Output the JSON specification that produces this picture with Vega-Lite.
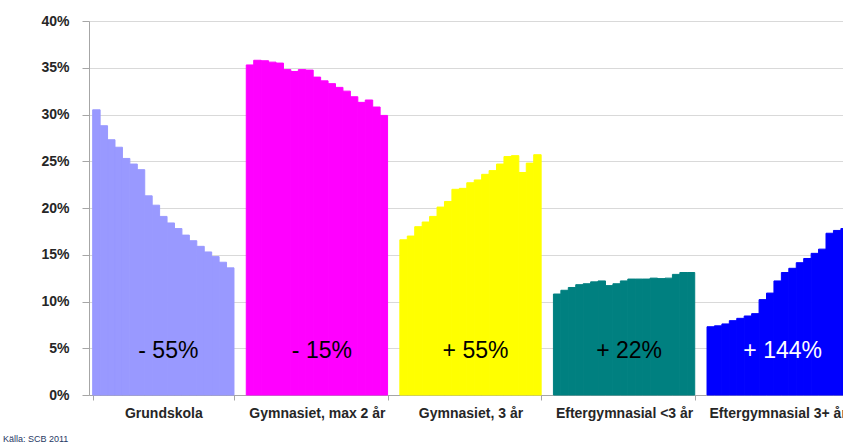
{
  "$schema": "https://vega.github.io/schema/vega-lite/v6.json",
  "autosize": {"type": "none"},
  "padding": {"left": 89, "top": 21, "right": 0, "bottom": 53},
  "width": 763,
  "height": 374,
  "background": "white",
  "title": {"text": "Källa: SCB 2011", "orient": "bottom", "anchor": "start", "frame": "group", "dx": -86, "offset": 15, "fontSize": 9, "fontWeight": "normal", "font": "Liberation Sans", "color": "#1F3864"},
  "datasets": {
    "shares": [
      {"cat": "Grundskola", "year": 1990, "value": 30.5},
      {"cat": "Grundskola", "year": 1991, "value": 28.8},
      {"cat": "Grundskola", "year": 1992, "value": 27.3},
      {"cat": "Grundskola", "year": 1993, "value": 26.5},
      {"cat": "Grundskola", "year": 1994, "value": 25.3},
      {"cat": "Grundskola", "year": 1995, "value": 24.7},
      {"cat": "Grundskola", "year": 1996, "value": 24.1},
      {"cat": "Grundskola", "year": 1997, "value": 21.3},
      {"cat": "Grundskola", "year": 1998, "value": 20.3},
      {"cat": "Grundskola", "year": 1999, "value": 19.1},
      {"cat": "Grundskola", "year": 2000, "value": 18.4},
      {"cat": "Grundskola", "year": 2001, "value": 17.8},
      {"cat": "Grundskola", "year": 2002, "value": 17.1},
      {"cat": "Grundskola", "year": 2003, "value": 16.5},
      {"cat": "Grundskola", "year": 2004, "value": 15.9},
      {"cat": "Grundskola", "year": 2005, "value": 15.3},
      {"cat": "Grundskola", "year": 2006, "value": 14.8},
      {"cat": "Grundskola", "year": 2007, "value": 14.2},
      {"cat": "Grundskola", "year": 2008, "value": 13.6},
      {"cat": "Gymnasiet, max 2 år", "year": 1990, "value": 35.3},
      {"cat": "Gymnasiet, max 2 år", "year": 1991, "value": 35.8},
      {"cat": "Gymnasiet, max 2 år", "year": 1992, "value": 35.75},
      {"cat": "Gymnasiet, max 2 år", "year": 1993, "value": 35.6},
      {"cat": "Gymnasiet, max 2 år", "year": 1994, "value": 35.5},
      {"cat": "Gymnasiet, max 2 år", "year": 1995, "value": 34.8},
      {"cat": "Gymnasiet, max 2 år", "year": 1996, "value": 34.6},
      {"cat": "Gymnasiet, max 2 år", "year": 1997, "value": 34.8},
      {"cat": "Gymnasiet, max 2 år", "year": 1998, "value": 34.75},
      {"cat": "Gymnasiet, max 2 år", "year": 1999, "value": 34.0},
      {"cat": "Gymnasiet, max 2 år", "year": 2000, "value": 33.6},
      {"cat": "Gymnasiet, max 2 år", "year": 2001, "value": 33.3},
      {"cat": "Gymnasiet, max 2 år", "year": 2002, "value": 32.9},
      {"cat": "Gymnasiet, max 2 år", "year": 2003, "value": 32.5},
      {"cat": "Gymnasiet, max 2 år", "year": 2004, "value": 31.9},
      {"cat": "Gymnasiet, max 2 år", "year": 2005, "value": 31.3},
      {"cat": "Gymnasiet, max 2 år", "year": 2006, "value": 31.55},
      {"cat": "Gymnasiet, max 2 år", "year": 2007, "value": 30.8},
      {"cat": "Gymnasiet, max 2 år", "year": 2008, "value": 29.9},
      {"cat": "Gymnasiet, 3 år", "year": 1990, "value": 16.6},
      {"cat": "Gymnasiet, 3 år", "year": 1991, "value": 17.0},
      {"cat": "Gymnasiet, 3 år", "year": 1992, "value": 18.0},
      {"cat": "Gymnasiet, 3 år", "year": 1993, "value": 18.5},
      {"cat": "Gymnasiet, 3 år", "year": 1994, "value": 19.1},
      {"cat": "Gymnasiet, 3 år", "year": 1995, "value": 20.1},
      {"cat": "Gymnasiet, 3 år", "year": 1996, "value": 20.7},
      {"cat": "Gymnasiet, 3 år", "year": 1997, "value": 22.0},
      {"cat": "Gymnasiet, 3 år", "year": 1998, "value": 22.1},
      {"cat": "Gymnasiet, 3 år", "year": 1999, "value": 22.7},
      {"cat": "Gymnasiet, 3 år", "year": 2000, "value": 23.0},
      {"cat": "Gymnasiet, 3 år", "year": 2001, "value": 23.6},
      {"cat": "Gymnasiet, 3 år", "year": 2002, "value": 24.0},
      {"cat": "Gymnasiet, 3 år", "year": 2003, "value": 24.7},
      {"cat": "Gymnasiet, 3 år", "year": 2004, "value": 25.5},
      {"cat": "Gymnasiet, 3 år", "year": 2005, "value": 25.6},
      {"cat": "Gymnasiet, 3 år", "year": 2006, "value": 23.8},
      {"cat": "Gymnasiet, 3 år", "year": 2007, "value": 24.8},
      {"cat": "Gymnasiet, 3 år", "year": 2008, "value": 25.7},
      {"cat": "Eftergymnasial <3 år", "year": 1990, "value": 10.8},
      {"cat": "Eftergymnasial <3 år", "year": 1991, "value": 11.2},
      {"cat": "Eftergymnasial <3 år", "year": 1992, "value": 11.5},
      {"cat": "Eftergymnasial <3 år", "year": 1993, "value": 11.8},
      {"cat": "Eftergymnasial <3 år", "year": 1994, "value": 11.9},
      {"cat": "Eftergymnasial <3 år", "year": 1995, "value": 12.1},
      {"cat": "Eftergymnasial <3 år", "year": 1996, "value": 12.2},
      {"cat": "Eftergymnasial <3 år", "year": 1997, "value": 11.7},
      {"cat": "Eftergymnasial <3 år", "year": 1998, "value": 11.9},
      {"cat": "Eftergymnasial <3 år", "year": 1999, "value": 12.2},
      {"cat": "Eftergymnasial <3 år", "year": 2000, "value": 12.4},
      {"cat": "Eftergymnasial <3 år", "year": 2001, "value": 12.4},
      {"cat": "Eftergymnasial <3 år", "year": 2002, "value": 12.4},
      {"cat": "Eftergymnasial <3 år", "year": 2003, "value": 12.5},
      {"cat": "Eftergymnasial <3 år", "year": 2004, "value": 12.45},
      {"cat": "Eftergymnasial <3 år", "year": 2005, "value": 12.5},
      {"cat": "Eftergymnasial <3 år", "year": 2006, "value": 12.9},
      {"cat": "Eftergymnasial <3 år", "year": 2007, "value": 13.1},
      {"cat": "Eftergymnasial <3 år", "year": 2008, "value": 13.1},
      {"cat": "Eftergymnasial 3+ år", "year": 1990, "value": 7.3},
      {"cat": "Eftergymnasial 3+ år", "year": 1991, "value": 7.4},
      {"cat": "Eftergymnasial 3+ år", "year": 1992, "value": 7.6},
      {"cat": "Eftergymnasial 3+ år", "year": 1993, "value": 7.95},
      {"cat": "Eftergymnasial 3+ år", "year": 1994, "value": 8.2},
      {"cat": "Eftergymnasial 3+ år", "year": 1995, "value": 8.45},
      {"cat": "Eftergymnasial 3+ år", "year": 1996, "value": 8.7},
      {"cat": "Eftergymnasial 3+ år", "year": 1997, "value": 10.2},
      {"cat": "Eftergymnasial 3+ år", "year": 1998, "value": 10.9},
      {"cat": "Eftergymnasial 3+ år", "year": 1999, "value": 12.2},
      {"cat": "Eftergymnasial 3+ år", "year": 2000, "value": 13.1},
      {"cat": "Eftergymnasial 3+ år", "year": 2001, "value": 13.55},
      {"cat": "Eftergymnasial 3+ år", "year": 2002, "value": 14.15},
      {"cat": "Eftergymnasial 3+ år", "year": 2003, "value": 14.6},
      {"cat": "Eftergymnasial 3+ år", "year": 2004, "value": 15.15},
      {"cat": "Eftergymnasial 3+ år", "year": 2005, "value": 15.6},
      {"cat": "Eftergymnasial 3+ år", "year": 2006, "value": 17.3},
      {"cat": "Eftergymnasial 3+ år", "year": 2007, "value": 17.6},
      {"cat": "Eftergymnasial 3+ år", "year": 2008, "value": 17.8}
    ],
    "labels": [
      {"cat": "Grundskola", "label": "- 55%"},
      {"cat": "Gymnasiet, max 2 år", "label": "- 15%"},
      {"cat": "Gymnasiet, 3 år", "label": "+ 55%"},
      {"cat": "Eftergymnasial <3 år", "label": "+ 22%"},
      {"cat": "Eftergymnasial 3+ år", "label": "+ 144%"}
    ]
  },
  "config": {
    "view": {"stroke": null},
    "font": "Liberation Sans"
  },
  "layer": [
    {
      "data": {"name": "shares"},
      "mark": {"type": "bar", "strokeWidth": 1},
      "encoding": {
        "x": {
          "field": "cat", "type": "nominal", "sort": null,
          "scale": {"paddingInner": 0.08, "paddingOuter": 0.024},
          "axis": {"title": null, "labelAngle": 0, "labelFontWeight": "bold", "labelFontSize": 14, "labelColor": "#262626", "tickBand": "extent", "tickColor": "#a6a6a6", "tickSize": 5, "domainColor": "#a6a6a6", "labelPadding": 6, "labelOverlap": false, "labelBound": false}
        },
        "xOffset": {"field": "year", "type": "ordinal", "scale": {"paddingInner": 0, "paddingOuter": 0}},
        "y": {
          "field": "value", "type": "quantitative",
          "scale": {"domain": [0, 40], "nice": false},
          "axis": {"title": null, "values": [0, 5, 10, 15, 20, 25, 30, 35, 40], "labelExpr": "datum.value + '%'", "labelFontWeight": "bold", "labelFontSize": 14, "labelColor": "#262626", "gridColor": "#d9d9d9", "tickColor": "#a6a6a6", "domainColor": "#a6a6a6", "tickSize": 7, "labelPadding": 13}
        },
        "color": {
          "field": "cat", "type": "nominal", "legend": null,
          "scale": {"domain": ["Grundskola", "Gymnasiet, max 2 år", "Gymnasiet, 3 år", "Eftergymnasial <3 år", "Eftergymnasial 3+ år"], "range": ["#9999ff", "#ff00ff", "#ffff00", "#008080", "#0000ff"]}
        },
        "stroke": {
          "field": "cat", "type": "nominal", "legend": null,
          "scale": {"domain": ["Grundskola", "Gymnasiet, max 2 år", "Gymnasiet, 3 år", "Eftergymnasial <3 år", "Eftergymnasial 3+ år"], "range": ["#9999ff", "#ff00ff", "#ffff00", "#008080", "#0000ff"]}
        }
      }
    },
    {
      "data": {"name": "labels"},
      "mark": {"type": "text", "fontSize": 23, "baseline": "middle", "align": "center", "dx": 5},
      "encoding": {
        "x": {"field": "cat", "type": "nominal", "sort": null},
        "y": {"datum": 4.7},
        "text": {"field": "label"},
        "color": {
          "field": "cat", "type": "nominal", "legend": null,
          "scale": {"domain": ["Grundskola", "Gymnasiet, max 2 år", "Gymnasiet, 3 år", "Eftergymnasial <3 år", "Eftergymnasial 3+ år"], "range": ["#000000", "#000000", "#000000", "#000000", "#ffffff"]}
        }
      }
    }
  ],
  "resolve": {"scale": {"color": "independent", "stroke": "independent"}}
}
